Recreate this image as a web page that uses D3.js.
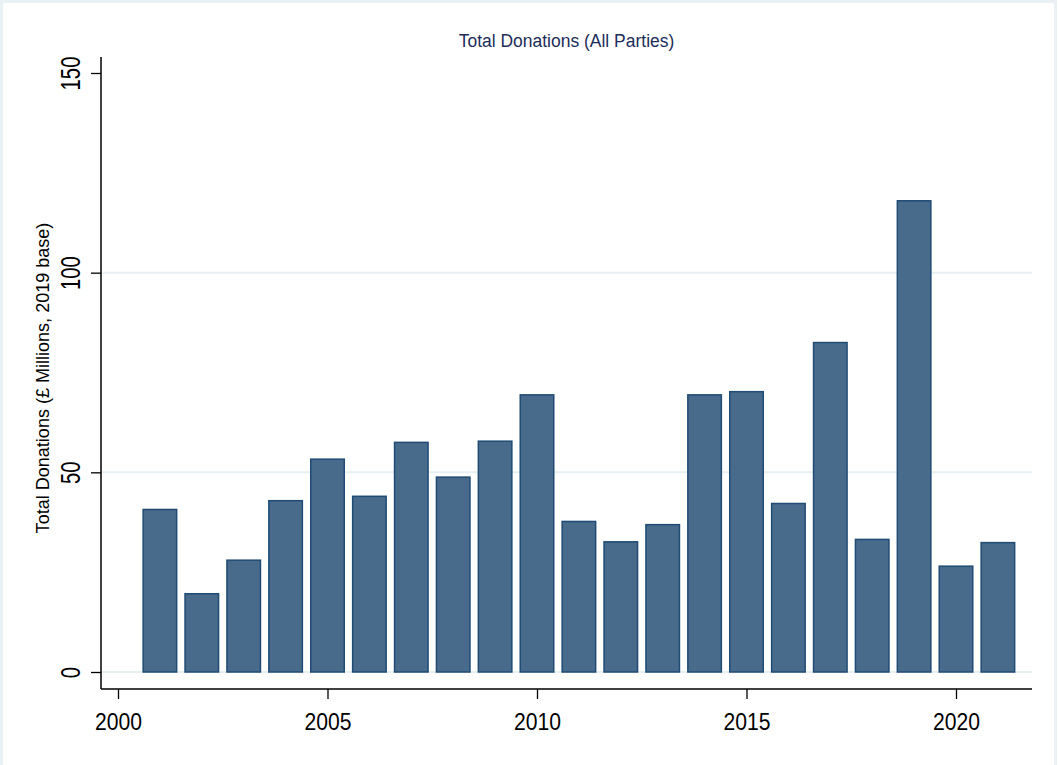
<!DOCTYPE html>
<html><head><meta charset="utf-8">
<script src="https://cdn.jsdelivr.net/npm/d3@7"></script>
<style>html,body{margin:0;padding:0;background:#fff;}svg{display:block;font-family:"Liberation Sans",Arial,sans-serif;}</style>
</head><body>
<svg id="c" width="1058" height="765"></svg>
<script>
const years = [2001,2002,2003,2004,2005,2006,2007,2008,2009,2010,2011,2012,2013,2014,2015,2016,2017,2018,2019,2020,2021];
const donations = [40.7,19.6,28.0,42.9,53.3,44.0,57.5,48.8,57.8,69.4,37.7,32.6,36.9,69.4,70.2,42.2,82.5,33.2,118.0,26.5,32.4];
const xTicks = [2000,2005,2010,2015,2020];
const yTicks = [0,50,100,150];
const gridTicks = [0,50,100];
const title = "Total Donations (All Parties)";
const yTitle = "Total Donations (£ Millions, 2019 base)";

const svg = d3.select("#c");
svg.append("rect").attr("x",1.5).attr("y",1.5).attr("width",1054).attr("height",765).attr("fill","#fff").attr("stroke","#e9f1f4").attr("stroke-width",3);

const left=101,right=1032,axisY=689,topY=57;
const x = d3.scaleLinear().domain([2000,2020]).range([118,956]);
const y = d3.scaleLinear().domain([0,150]).range([672,73]);
const bw = (x(2001)-x(2000))*0.8;

svg.append("g").selectAll("line").data(gridTicks).join("line")
  .attr("x1",left).attr("x2",right).attr("y1",d=>y(d)).attr("y2",d=>y(d))
  .attr("stroke","#e6eff2").attr("stroke-width",2);

svg.append("g").selectAll("rect").data(years).join("rect")
  .attr("x",(d)=>x(d)-bw/2).attr("width",bw)
  .attr("y",(d,i)=>y(donations[i])).attr("height",(d,i)=>y(0)-y(donations[i]))
  .attr("fill","#486b8c").attr("stroke","#1f4b74").attr("stroke-width",1.5);

// y axis
const ya = svg.append("g").attr("transform",`translate(${left},0)`)
  .call(d3.axisLeft(y).tickValues(yTicks).tickSize(10).tickPadding(0).tickFormat(d3.format("d")));
ya.select(".domain").remove();
ya.selectAll(".tick line").attr("stroke","#000").attr("stroke-width",1.3);
ya.selectAll(".tick text").attr("font-size",27).attr("fill","#000")
  .attr("text-anchor","middle").attr("transform","rotate(-90) scale(0.75,1)").attr("x",0).attr("y",-21).attr("dy","0");
svg.append("line").attr("x1",left).attr("x2",left).attr("y1",topY).attr("y2",axisY).attr("stroke","#000").attr("stroke-width",1.5);

// x axis
const xa = svg.append("g").attr("transform",`translate(0,${axisY})`)
  .call(d3.axisBottom(x).tickValues(xTicks).tickSize(10).tickPadding(6).tickFormat(d3.format("d")));
xa.select(".domain").remove();
xa.selectAll(".tick line").attr("stroke","#000").attr("stroke-width",1.3);
xa.selectAll(".tick text").attr("font-size",24).attr("fill","#000").attr("dy","0").attr("y",41)
  .attr("transform","scale(0.88,1)");
svg.append("line").attr("x1",left).attr("x2",right).attr("y1",axisY).attr("y2",axisY).attr("stroke","#000").attr("stroke-width",1.5);

svg.append("text").attr("transform",`translate(${(left+right)/2},47) scale(0.92,1)`).attr("text-anchor","middle")
  .attr("font-size",19).attr("fill","#1c2d5a").text(title);
svg.append("text").attr("transform",`translate(49,378) rotate(-90) scale(0.95,1)`).attr("text-anchor","middle")
  .attr("font-size",19).attr("fill","#000").text(yTitle);
</script>
</body></html>
